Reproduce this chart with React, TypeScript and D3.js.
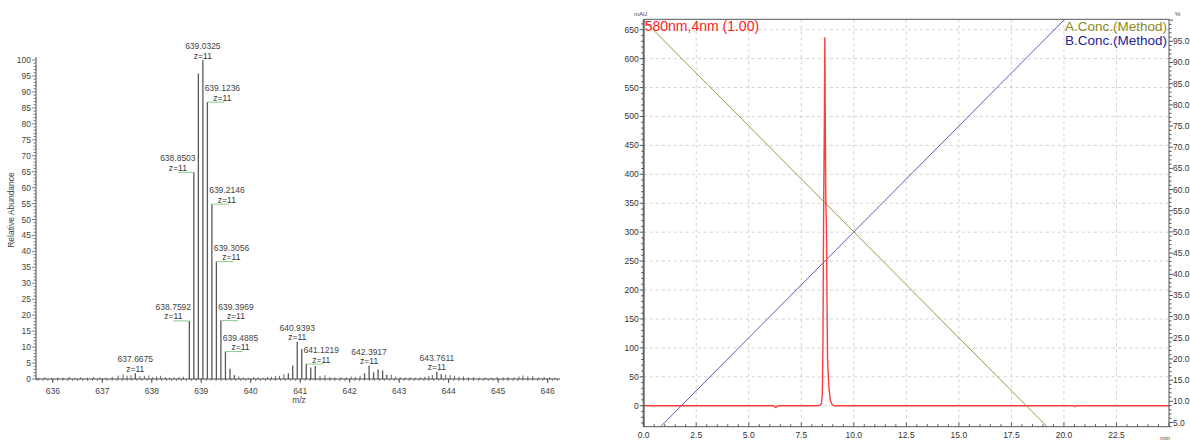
import React from 'react';
import * as d3 from 'd3';

// ---------- Mass spectrum (left) ----------
const isotopeMz = [
  637.6675, 638.7592, 638.8503, 638.9414, 639.0325, 639.1236, 639.2146, 639.3056,
  639.3969, 639.4885, 639.58, 639.67, 640.76, 640.848, 640.9393, 641.0306, 641.1219,
  641.213, 641.304, 642.3, 642.3917, 642.483, 642.574, 642.665, 642.75, 643.7611, 643.85,
];
const isotopeAbundance = [
  1.8, 18.2, 64.8, 95.8, 100, 86.8, 54.8, 36.8,
  18.3, 8.6, 3.2, 1.2, 1.8, 4.2, 11.7, 9.4, 4.7,
  3.6, 4.1, 1.8, 4.2, 2.1, 3.0, 2.7, 1.3, 2.3, 1.5,
];
const noiseMz = [
  635.72, 635.84, 635.97, 636.1, 636.21, 636.33, 636.45, 636.56, 636.7, 636.82, 636.95,
  637.07, 637.2, 637.32, 637.42, 637.5, 637.58, 637.76, 637.85, 637.94, 638.02, 638.1,
  638.18, 638.27, 638.36, 638.45, 638.55, 638.64, 639.76, 639.85, 639.95, 640.06, 640.15,
  640.25, 640.34, 640.42, 640.5, 640.58, 640.67, 641.4, 641.5, 641.6, 641.7, 641.82,
  641.93, 642.03, 642.12, 642.21, 642.84, 642.93, 643.02, 643.12, 643.22, 643.33, 643.43,
  643.52, 643.6, 643.67, 643.94, 644.03, 644.12, 644.21, 644.3, 644.4, 644.5, 644.62,
  644.74, 644.86, 644.98, 645.1, 645.2, 645.32, 645.42, 645.5, 645.6, 645.7, 645.82,
  645.93, 646.04, 646.15,
];
const noiseAbundance = [
  0.4, 0.6, 0.3, 0.5, 0.4, 0.7, 0.3, 0.5, 0.4, 0.6, 0.5,
  0.4, 0.7, 1.1, 1.5, 1.0, 1.2, 0.9, 1.0, 1.1, 0.6, 0.8,
  1.0, 0.6, 0.4, 0.5, 0.6, 0.7, 0.8, 0.5, 0.4, 0.6, 0.5,
  0.4, 0.6, 0.7, 0.9, 1.0, 1.5, 1.0, 1.2, 0.7, 0.5, 0.6,
  0.5, 0.8, 0.6, 1.0, 1.4, 0.8, 0.6, 0.5, 0.6, 0.4, 0.5,
  0.7, 1.0, 1.3, 1.3, 1.2, 1.0, 0.7, 0.8, 0.5, 0.6, 0.4,
  0.5, 0.4, 0.6, 0.5, 0.6, 0.5, 0.8, 1.1, 0.8, 0.9, 0.5,
  0.6, 0.5, 0.4,
];
const labelMz = [
  637.6675, 638.7592, 638.8503, 639.0325, 639.1236, 639.2146, 639.3056,
  639.3969, 639.4885, 640.9393, 641.1219, 642.3917, 643.7611,
];
const labelCharge = [11, 11, 11, 11, 11, 11, 11, 11, 11, 11, 11, 11, 11];
const mzTicks = [636, 637, 638, 639, 640, 641, 642, 643, 644, 645, 646];
const abundanceTicks = [0, 5, 10, 15, 20, 25, 30, 35, 40, 45, 50, 55, 60, 65, 70, 75, 80, 85, 90, 95, 100];

// ---------- Chromatogram (right) ----------
const chromTime = [
  0, 6.2, 6.28, 6.33, 6.4, 8.3, 8.4, 8.46, 8.5, 8.53, 8.55, 8.57, 8.6, 8.62, 8.64,
  8.66, 8.7, 8.72, 8.75, 8.78, 8.82, 8.88, 8.95, 9.05, 20.45, 20.52, 20.6, 25,
];
const chromMAU = [
  0, 0, -3, -2, 0, 0, 1, 4, 20, 100, 250, 370, 500, 636, 500,
  375, 300, 200, 80, 55, 30, 10, 3, 0, 0, -1.5, 0, 0,
];
const gradientTime = [0, 20];
const concA = [100, 0];
const concB = [0, 100];
const timeTicks = [0, 2.5, 5, 7.5, 10, 12.5, 15, 17.5, 20, 22.5];
const mauTicks = [0, 50, 100, 150, 200, 250, 300, 350, 400, 450, 500, 550, 600, 650];
const pctTicks = [5, 10, 15, 20, 25, 30, 35, 40, 45, 50, 55, 60, 65, 70, 75, 80, 85, 90, 95];

const FONT = "'Liberation Sans', Arial, sans-serif";

function leaderSide(mz: number): 'L' | 'R' | 'C' {
  if (mz === 638.7592 || mz === 638.8503) return 'L';
  if (mz === 639.0325 || mz === 640.9393 || mz === 642.3917 || mz === 643.7611 || mz === 637.6675) return 'C';
  return 'R';
}

function Spectrum() {
  const x = d3.scaleLinear().domain([635.66, 646.25]).range([36, 560]);
  const y = d3.scaleLinear().domain([0, 100]).range([379, 60]);
  const minorX = d3.range(635.7, 646.25, 0.1);
  const minorY = d3.range(0, 101, 1);
  const peaks = isotopeMz.map((m, i) => ({ m, a: isotopeAbundance[i] }));
  const noise = noiseMz.map((m, i) => ({ m, a: noiseAbundance[i] }));
  const abundanceOf = (m: number) => peaks.find((p) => p.m === m)!.a;
  return (
    <g fontFamily={FONT}>
      {/* noise sticks */}
      {noise.map((p, i) => (
        <line key={'n' + i} x1={x(p.m)} x2={x(p.m)} y1={y(0)} y2={y(p.a)} stroke="#555" strokeWidth={0.9} />
      ))}
      {/* isotope peaks */}
      {peaks.map((p, i) => (
        <line key={'p' + i} x1={x(p.m)} x2={x(p.m)} y1={y(0)} y2={y(p.a)} stroke="#595959" strokeWidth={1.3} />
      ))}
      {/* axes */}
      <line x1={36} x2={36} y1={57} y2={380} stroke="#444" strokeWidth={1} />
      <line x1={36} x2={560} y1={y(0)} y2={y(0)} stroke="#444" strokeWidth={1} />
      {minorY.map((v) => (
        <line key={'my' + v} x1={v % 5 === 0 ? 32 : 33.5} x2={36} y1={y(v)} y2={y(v)} stroke="#666" strokeWidth={0.8} />
      ))}
      {abundanceTicks.map((v) => (
        <text key={'ty' + v} x={31} y={y(v) + 3} fontSize={8.5} textAnchor="end" fill="#444">{v}</text>
      ))}
      {minorX.map((v, i) => (
        <line key={'mx' + i} x1={x(v)} x2={x(v)} y1={y(0)} y2={y(0) + 2} stroke="#666" strokeWidth={0.8} />
      ))}
      {mzTicks.map((v) => (
        <g key={'tx' + v}>
          <line x1={x(v)} x2={x(v)} y1={y(0)} y2={y(0) + 4} stroke="#444" strokeWidth={0.9} />
          <text x={x(v)} y={394} fontSize={8.5} textAnchor="middle" fill="#444">{v}</text>
        </g>
      ))}
      <text x={299} y={403} fontSize={8.5} textAnchor="middle" fill="#444">m/z</text>
      <text transform="translate(14,210) rotate(-90)" fontSize={8.5} textAnchor="middle" fill="#444">Relative Abundance</text>
      {/* annotations */}
      {labelMz.map((m, i) => {
        const px = x(m);
        const py = y(abundanceOf(m));
        const side = leaderSide(m);
        const cx = side === 'L' ? px - 16 : side === 'R' ? px + 15 : px;
        return (
          <g key={'l' + i}>
            {side === 'L' && <line x1={px - 16} x2={px} y1={py} y2={py} stroke="#86cc86" strokeWidth={1} />}
            {side === 'R' && <line x1={px} x2={px + 17} y1={py} y2={py} stroke="#86cc86" strokeWidth={1} />}
            <text x={cx} y={py - 11} fontSize={8.5} textAnchor="middle" fill="#444">{m.toFixed(4)}</text>
            <text x={cx} y={py - 1.5} fontSize={8.5} textAnchor="middle" fill="#333">z={labelCharge[i]}</text>
          </g>
        );
      })}
    </g>
  );
}

function Chromatogram() {
  const L = 643.7, R = 1169, T = 19.3, B = 426.7;
  const x = d3.scaleLinear().domain([0, 25]).range([L, R]);
  const yL = d3.scaleLinear().domain([0, 650]).range([405.7, 29.7]);
  const yR = d3.scaleLinear().domain([5, 95]).range([422.5, 41.3]);
  const chrom = chromTime.map((t, i) => [t, chromMAU[i]] as [number, number]);
  const gA = gradientTime.map((t, i) => [t, concA[i]] as [number, number]);
  const gB = gradientTime.map((t, i) => [t, concB[i]] as [number, number]);
  const lineL = d3.line<[number, number]>().x((d) => x(d[0])).y((d) => yL(d[1]));
  const lineR = d3.line<[number, number]>().x((d) => x(d[0])).y((d) => yR(d[1]));
  const minorMau = d3.range(-30, 661, 10);
  const minorPct = d3.range(4, 101, 1);
  const minorT = d3.range(0, 25.01, 0.5);
  return (
    <g fontFamily={FONT}>
      <defs>
        <clipPath id="plotClip">
          <rect x={L} y={T} width={R - L} height={B - T} />
        </clipPath>
      </defs>
      {/* grid */}
      {timeTicks.filter((t) => t > 0).map((t) => (
        <line key={'gx' + t} x1={x(t)} x2={x(t)} y1={T} y2={B} stroke="#d2d2d2" strokeWidth={1} strokeDasharray="3,3" />
      ))}
      {mauTicks.map((v) => (
        <line key={'gy' + v} x1={L} x2={R} y1={yL(v)} y2={yL(v)} stroke="#d2d2d2" strokeWidth={1} strokeDasharray="3,3" />
      ))}
      <g clipPath="url(#plotClip)">
        <path d={lineR(gA)!} fill="none" stroke="#9a9a3c" strokeWidth={1} />
        <path d={lineR(gB)!} fill="none" stroke="#5c5cc4" strokeWidth={1} />
        <path d={lineL(chrom)!} fill="none" stroke="#ff3b3b" strokeWidth={1.4} strokeLinejoin="round" />
      </g>
      {/* frame and axes */}
      <line x1={L} x2={R} y1={T} y2={T} stroke="#555" strokeWidth={1} />
      <line x1={L} x2={R} y1={B} y2={B} stroke="#555" strokeWidth={1} />
      <line x1={R} x2={R} y1={T} y2={B} stroke="#555" strokeWidth={1} />
      <line x1={L} x2={L} y1={T} y2={B} stroke="#666" strokeWidth={2} />
      {minorMau.map((v) => (
        <line key={'mm' + v} x1={L - (v % 50 === 0 ? 4 : 2.5)} x2={L} y1={yL(v)} y2={yL(v)} stroke="#555" strokeWidth={1} />
      ))}
      {mauTicks.map((v) => (
        <text key={'tl' + v} x={L - 5} y={yL(v) + 3} fontSize={8.5} textAnchor="end" fill="#333">{v}</text>
      ))}
      {minorPct.map((v) => (
        <line key={'mp' + v} x1={R} x2={R + (v % 5 === 0 ? 4 : 2.5)} y1={yR(v)} y2={yR(v)} stroke="#555" strokeWidth={1} />
      ))}
      {pctTicks.map((v) => (
        <text key={'tr' + v} x={R + 4} y={yR(v) + 3} fontSize={8.5} textAnchor="start" fill="#333">{v.toFixed(1)}</text>
      ))}
      {minorT.map((t, i) => (
        <line key={'mt' + i} x1={x(t)} x2={x(t)} y1={B} y2={B - (i % 5 === 0 ? 4 : 2.5)} stroke="#555" strokeWidth={1} />
      ))}
      {timeTicks.map((t) => (
        <text key={'tt' + t} x={x(t)} y={438} fontSize={8.5} textAnchor="middle" fill="#333">{t.toFixed(1)}</text>
      ))}
      <text x={L - 3} y={16} fontSize={6} textAnchor="middle" fill="#444">mAU</text>
      <text x={R + 6} y={16} fontSize={6} textAnchor="start" fill="#444">%</text>
      <text x={R - 4} y={440} fontSize={6} textAnchor="middle" fill="#444">min</text>
      {/* legend */}
      <text x={L + 1} y={31} fontSize={14} fill="#ff2020">580nm,4nm (1.00)</text>
      <text x={R - 2} y={31} fontSize={13.5} textAnchor="end" fill="#8c8c1c">A.Conc.(Method)</text>
      <text x={R - 2} y={45} fontSize={13.5} textAnchor="end" fill="#22229a">B.Conc.(Method)</text>
    </g>
  );
}

export default function App() {
  return (
    <svg width={1190} height={441} style={{ position: 'absolute', left: 0, top: 0, background: '#fff' }}>
      <rect x={0} y={0} width={1190} height={441} fill="#fff" />
      <Spectrum />
      <Chromatogram />
    </svg>
  );
}
